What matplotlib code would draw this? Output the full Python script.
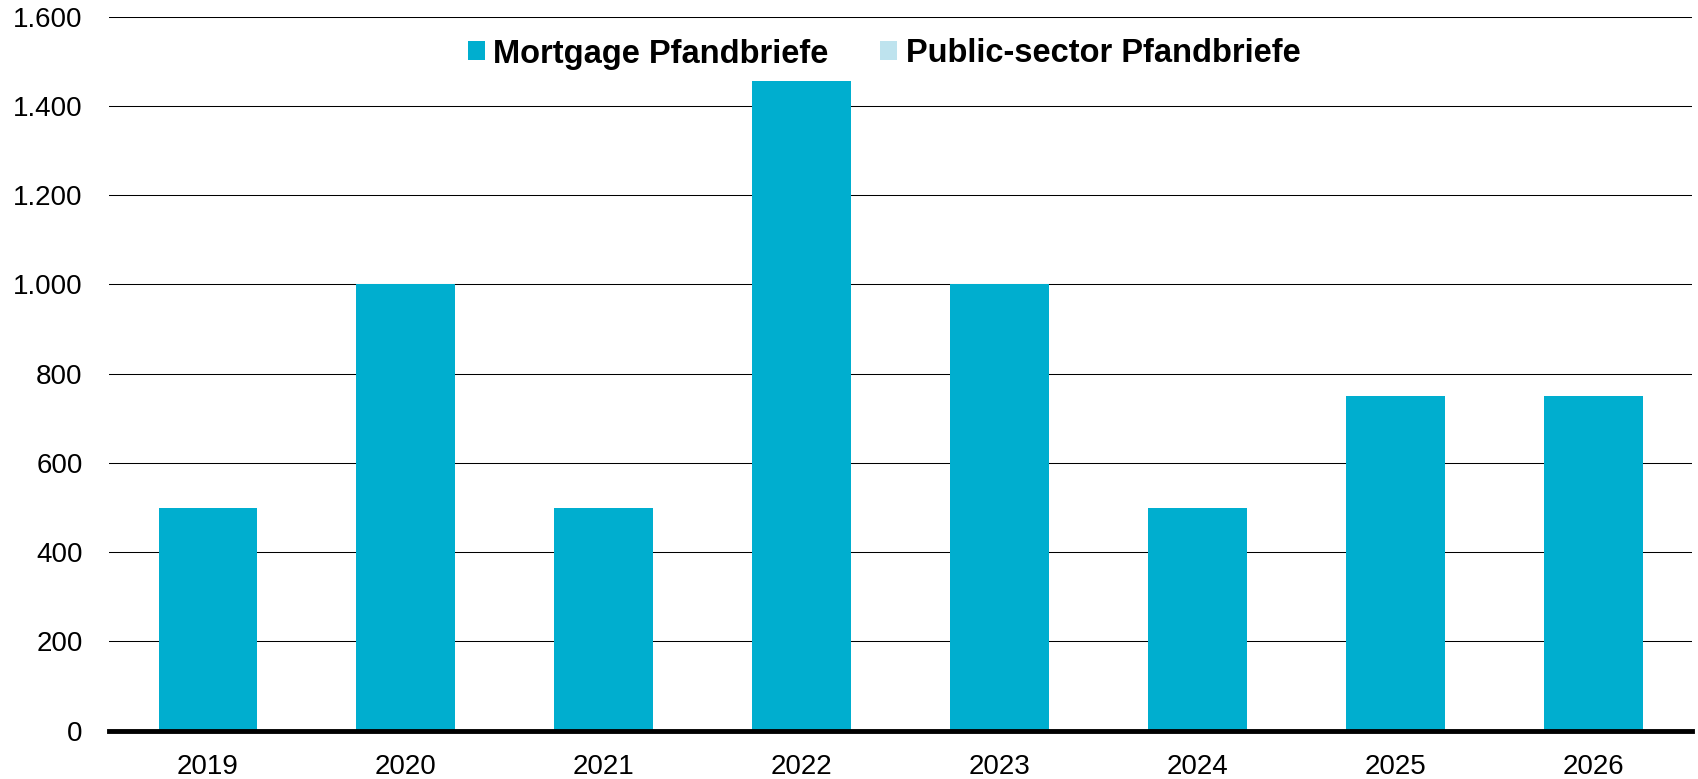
import matplotlib
matplotlib.use("Agg")
import matplotlib.pyplot as plt
import numpy as np
from matplotlib.ticker import FuncFormatter

years = ["2019", "2020", "2021", "2022", "2023", "2024", "2025", "2026"]
mortgage = [500, 1000, 500, 1455, 1000, 500, 750, 750]
public_sector = [0, 0, 0, 0, 0, 0, 0, 0]
series_names = ["Mortgage Pfandbriefe", "Public-sector Pfandbriefe"]

MORTGAGE_C = "#00AECF"
PUBLIC_C = "#BEE3EE"

plt.rcParams["font.family"] = ["Liberation Sans", "DejaVu Sans"]

fig = plt.figure(figsize=(16.99, 7.79), dpi=100)
ax = fig.add_axes([0.0642, 0.062, 0.9318, 0.9166])

x = np.arange(len(years))
ax.bar(x, mortgage, width=0.5, color=MORTGAGE_C, zorder=2, label=series_names[0])
ax.bar(x, public_sector, width=0.5, bottom=mortgage, color=PUBLIC_C, zorder=2,
       label=series_names[1])

ax.set_xlim(-0.5, len(years) - 0.5)
ax.set_ylim(0, 1600)
ax.set_yticks(np.arange(0, 1601, 200))
ax.yaxis.set_major_formatter(FuncFormatter(lambda v, _: f"{int(v):,}".replace(",", ".")))
ax.set_xticks(x)
ax.set_xticklabels(years)
ax.tick_params(axis="y", length=0, pad=19, labelsize=20)
ax.tick_params(axis="x", length=0, pad=17, labelsize=20)

ax.grid(axis="y", color="black", linewidth=0.75, zorder=1)
ax.set_axisbelow(True)
for s in ["top", "right", "left"]:
    ax.spines[s].set_visible(False)
ax.spines["bottom"].set_linewidth(3.5)
ax.spines["bottom"].set_zorder(3)

fig.legend(
    loc="center", bbox_to_anchor=(884 / 1699, 1 - 54 / 779), ncol=2, frameon=False,
    prop={"weight": "bold", "size": 23.5}, handlelength=0.52, handleheight=0.52,
    handletextpad=0.25, columnspacing=1.6,
)

fig.savefig("out.png", dpi=100)
